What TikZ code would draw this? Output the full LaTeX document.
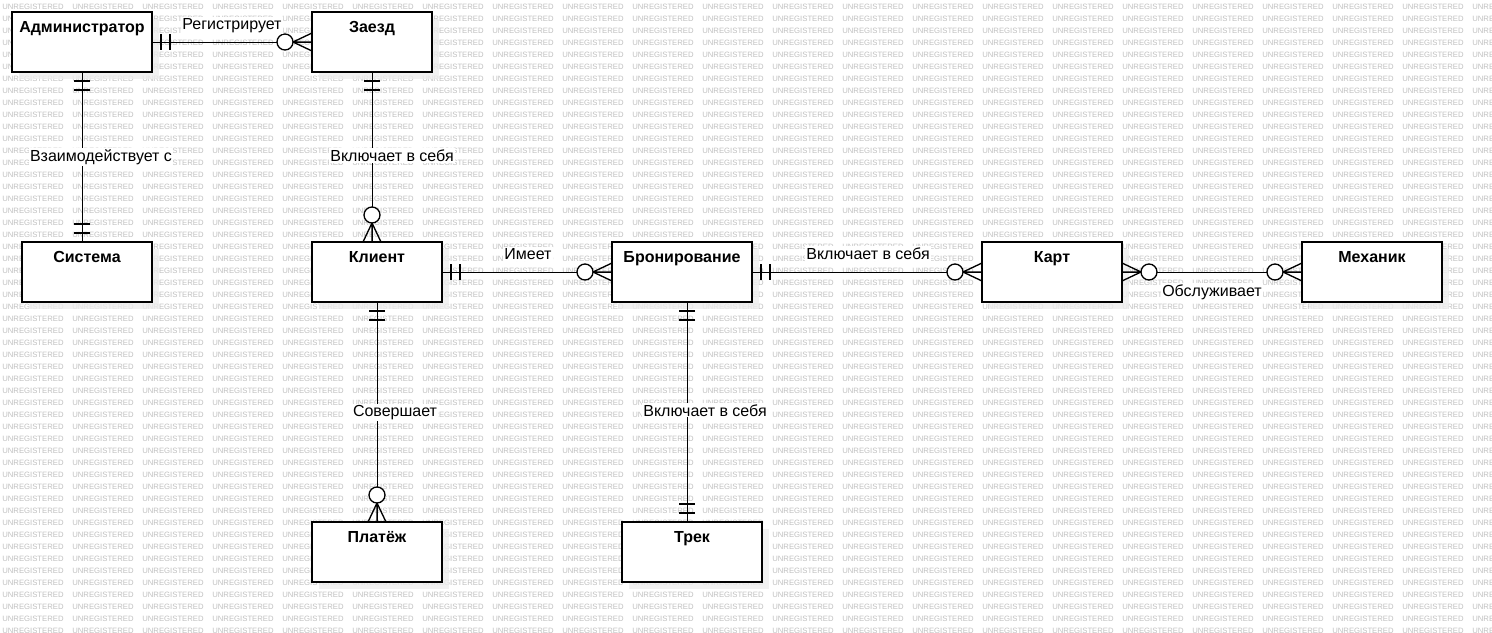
\documentclass[tikz,border=0pt]{standalone}
\usepackage{fontspec}
\setmainfont{Liberation Sans}
\usetikzlibrary{calc,positioning,shadows}
\tikzset{
    entity/.style={draw, line width=1.1pt, fill=white, minimum height=45pt,
        inner sep=0pt, outer sep=0pt,
        drop shadow={shadow xshift=5pt, shadow yshift=-5pt, fill=black!7, opacity=0.8}},
    title/.style={anchor=base, yshift=-15pt, font=\fontsize{12}{14}\selectfont\bfseries},
    rel/.style={anchor=base, fill=white, inner sep=1pt, font=\fontsize{12}{14}\selectfont},
    wm/.style={anchor=west, inner sep=0pt, text=black!25, font=\fontsize{5.8}{6}\selectfont},
    conn/.style={line width=0.75pt},
    one/.pic={\draw[line width=1pt] (9,-8) -- (9,8) (18,-8) -- (18,8);},
    many/.pic={\draw[line width=1pt] (0,-9) -- (19,0) -- (0,9) (0,0) -- (19,0);
               \draw[line width=1pt, fill=white] (27,0) circle[radius=6pt];}
}
\begin{document}
\begin{tikzpicture}[x=0.75pt,y=-0.75pt]
    \useasboundingbox (0,0) rectangle (1492,632);
    % watermark
    \foreach \r in {0,...,52}
        \foreach \c in {0,...,21}
            \node[wm] (wm-\c-\r) at ({2+70*\c},{6.7+12*\r}) {UNREGISTERED};

    % entities
    \node[entity, minimum width=105pt, label={[title]north:Администратор}] (admin) at (82,42) {};
    \node[entity, minimum width=90pt, label={[title]north:Заезд}] (zaezd) at (372,42) {};
    \node[entity, minimum width=97.5pt, label={[title]north:Система}] (sistema) at (87,272) {};
    \node[entity, minimum width=97.5pt, label={[title]north:Клиент}] (klient) at (377,272) {};
    \node[entity, minimum width=105pt, label={[title]north:Бронирование}] (bron) at (682,272) {};
    \node[entity, minimum width=105pt, label={[title]north:Карт}] (kart) at (1052,272) {};
    \node[entity, minimum width=105pt, label={[title]north:Механик}] (mech) at (1372,272) {};
    \node[entity, minimum width=97.5pt, label={[title]north:Платёж}] (plat) at (377,552) {};
    \node[entity, minimum width=105pt, label={[title]north:Трек}] (trek) at (692,552) {};

    % connectors
    \draw[conn] (admin.east) -- (zaezd.west);
    \draw[conn] (admin.south) -- (admin.south |- sistema.north);
    \draw[conn] (zaezd.south) -- (zaezd.south |- klient.north);
    \draw[conn] (klient.east) -- (bron.west);
    \draw[conn] (bron.east) -- (kart.west);
    \draw[conn] (kart.east) -- (mech.west);
    \draw[conn] (klient.south) -- (plat.north);
    \draw[conn] ([xshift=3.75pt]bron.south) -- ([xshift=-3.75pt]trek.north);

    % cardinalities
    \pic at (admin.east) {one};
    \pic[rotate=180] at (zaezd.west) {many};
    \pic[rotate=-90] at (admin.south) {one};
    \pic[rotate=90] at (admin.south |- sistema.north) {one};
    \pic[rotate=-90] at (zaezd.south) {one};
    \pic[rotate=90] at (zaezd.south |- klient.north) {many};
    \pic at (klient.east) {one};
    \pic[rotate=180] at (bron.west) {many};
    \pic at (bron.east) {one};
    \pic[rotate=180] at (kart.west) {many};
    \pic at (kart.east) {many};
    \pic[rotate=180] at (mech.west) {many};
    \pic[rotate=-90] at (klient.south) {one};
    \pic[rotate=90] at (plat.north) {many};
    \pic[rotate=-90] at ([xshift=3.75pt]bron.south) {one};
    \pic[rotate=90] at ([xshift=-3.75pt]trek.north) {one};

    % relation labels
    \node[rel] (l-reg) at (232,29) {Регистрирует};
    \node[rel] (l-vz) at (101,161.5) {Взаимодействует с};
    \node[rel] (l-vkl1) at (392,161.5) {Включает в себя};
    \node[rel] (l-im) at (528,259.5) {Имеет};
    \node[rel] (l-vkl2) at (868,259.5) {Включает в себя};
    \node[rel] (l-obs) at (1212,296) {Обслуживает};
    \node[rel] (l-sov) at (395,416) {Совершает};
    \node[rel] (l-vkl3) at (705,416) {Включает в себя};
\end{tikzpicture}
\end{document}
